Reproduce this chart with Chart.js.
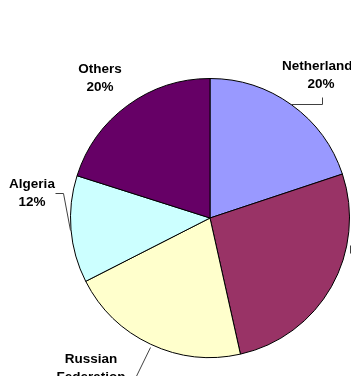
<!DOCTYPE html>
<html>
<head>
<meta charset="utf-8">
<script src="https://cdn.jsdelivr.net/npm/chart.js@4/dist/chart.umd.min.js"></script>
<style>
  html, body { margin: 0; padding: 0; background: #fff; overflow: hidden; }
</style>
</head>
<body>
<canvas id="pie" width="351" height="376"></canvas>
<script>
const countries = ['Netherlands', 'Norway', 'Russian Federation', 'Algeria', 'Others'];
const shares = [19.9, 26.6, 21.0, 12.4, 20.1];
const sliceColors = ['#9999FF', '#993366', '#FFFFCC', '#CCFFFF', '#660066'];

// label centre + leader line, relative to pie centre (Excel-ish placement)
const labelSpots = [
  { x: 111, y: -143, leader: [[112, -121], [112, -114], [80, -114]] },
  { x: 180, y: 30, leader: [[140, 27], [140, 35]] },
  { x: -119, y: 159, leader: [[-60, 129], [-80, 170]] },
  { x: -178, y: -25, leader: [[-155, -25], [-147, -25], [-140, 12]] },
  { x: -110, y: -140, leader: null }
];

const pieLabels = {
  id: 'pieLabels',
  afterDraw(chart) {
    const ctx = chart.ctx;
    const arcs = chart.getDatasetMeta(0).data;
    ctx.save();
    ctx.font = 'bold 13.5px "Liberation Sans", Arial, sans-serif';
    ctx.textAlign = 'center';
    ctx.textBaseline = 'middle';
    arcs.forEach((arc, i) => {
      const spot = labelSpots[i];
      const cx = arc.x, cy = arc.y;
      if (spot.leader) {
        ctx.strokeStyle = '#404040';
        ctx.lineWidth = 1;
        ctx.beginPath();
        spot.leader.forEach((p, k) => {
          const px = Math.round(cx + p[0]) + 0.5, py = Math.round(cy + p[1]) + 0.5;
          k ? ctx.lineTo(px, py) : ctx.moveTo(px, py);
        });
        ctx.stroke();
      }
      const lines = countries[i].split(' ').concat([Math.round(shares[i]) + '%']);
      const lh = 18;
      const top = cy + spot.y - (lines.length - 1) * lh / 2;
      ctx.fillStyle = '#000';
      lines.forEach((t, k) => ctx.fillText(t, cx + spot.x, top + k * lh));
    });
    ctx.restore();
  }
};

new Chart(document.getElementById('pie'), {
  type: 'pie',
  data: {
    labels: countries,
    datasets: [{
      data: shares,
      backgroundColor: sliceColors,
      borderColor: '#000',
      borderWidth: 1
    }]
  },
  options: {
    responsive: false,
    animation: false,
    layout: { padding: { left: 70, right: 1, top: 78, bottom: 18 } },
    plugins: {
      legend: { display: false },
      tooltip: { enabled: false }
    }
  },
  plugins: [pieLabels]
});
</script>
</body>
</html>
